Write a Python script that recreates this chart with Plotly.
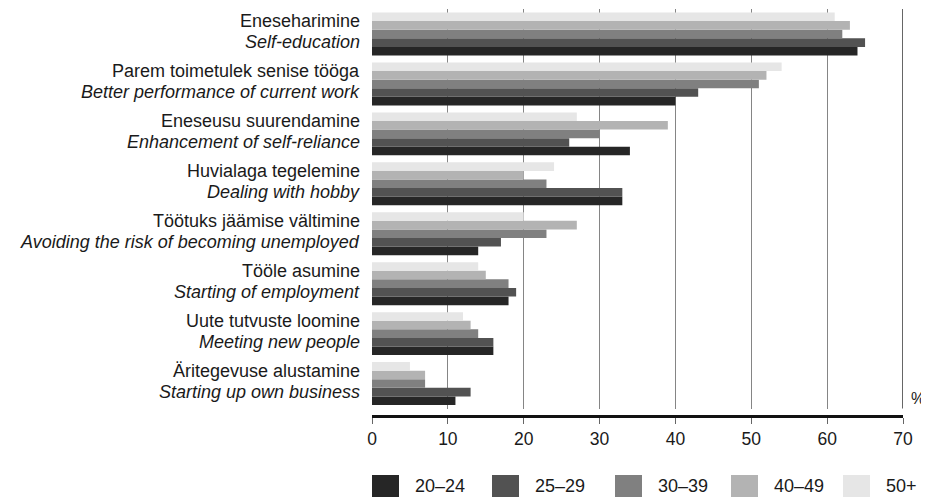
import plotly.graph_objects as go

# ---- data (top to bottom as in the reference) ----
labels_et = [
    "Eneseharimine",
    "Parem toimetulek senise tööga",
    "Eneseusu suurendamine",
    "Huvialaga tegelemine",
    "Töötuks jäämise vältimine",
    "Tööle asumine",
    "Uute tutvuste loomine",
    "Äritegevuse alustamine",
]
labels_en = [
    "Self-education",
    "Better performance of current work",
    "Enhancement of self-reliance",
    "Dealing with hobby",
    "Avoiding the risk of becoming unemployed",
    "Starting of employment",
    "Meeting new people",
    "Starting up own business",
]
age_groups = ["20–24", "25–29", "30–39", "40–49", "50+"]
v_20_24 = [64, 40, 34, 33, 14, 18, 16, 11]
v_25_29 = [65, 43, 26, 33, 17, 19, 16, 13]
v_30_39 = [62, 51, 30, 23, 23, 18, 14, 7]
v_40_49 = [63, 52, 39, 20, 27, 15, 13, 7]
v_50p = [61, 54, 27, 24, 20, 14, 12, 5]
x_ticks = [0, 10, 20, 30, 40, 50, 60, 70]

series = [v_20_24, v_25_29, v_30_39, v_40_49, v_50p]
colors = ["#262626", "#525252", "#808080", "#b3b3b3", "#e6e6e6"]

FONT = "Liberation Sans, Arial, sans-serif"
TXT = "#1a1a1a"

cats = [f"{a} / {b}" for a, b in zip(labels_et, labels_en)]
cats_r = cats[::-1]  # first category is drawn at the bottom

fig = go.Figure()
for name, vals, col in zip(age_groups, series, colors):
    fig.add_trace(go.Bar(
        y=cats_r, x=vals[::-1], name=name, orientation="h",
        marker=dict(color=col, line=dict(width=0)),
        showlegend=False,
    ))

# page body has an 8px margin: figure is 921x489 placed at (8, 8)
W, H = 921, 489
L, R, T = 364, 26, 1
AXIS_Y = 408            # x-axis line (figure px)
B = H - AXIS_Y
pw, ph = W - L - R, H - T - B
dom0 = (AXIS_Y - 400.5) / ph

fig.update_layout(
    width=W, height=H,
    margin=dict(l=L, r=R, t=T, b=B, autoexpand=False),
    paper_bgcolor="white", plot_bgcolor="white",
    barmode="group", bargap=0.14, bargroupgap=0,
    font=dict(family=FONT, size=18, color=TXT),
    xaxis=dict(
        range=[0, 70], tickvals=x_ticks, ticktext=[str(t) for t in x_ticks],
        showgrid=True, gridcolor="#858585", gridwidth=1,
        zeroline=False,
        showline=True, linecolor="#111111", linewidth=3,
        anchor="free", position=0,
        ticks="outside", ticklen=6, tickcolor="#666666", tickwidth=1,
        tickfont=dict(family=FONT, size=17.5, color=TXT),
        fixedrange=True, automargin=False,
    ),
    yaxis=dict(
        domain=[dom0, 1],
        showgrid=False, zeroline=False, showline=False,
        ticks="", showticklabels=False,
        fixedrange=True, automargin=False,
    ),
)

# two-line category labels (Estonian upright, English italic)
for cat, et, en in zip(cats, labels_et, labels_en):
    fig.add_annotation(text=et, xref="paper", yref="y", x=0, y=cat,
                       xanchor="right", yanchor="middle", xshift=-10, yshift=13,
                       showarrow=False, font=dict(family=FONT, size=18, color=TXT))
    fig.add_annotation(text=f"<i>{en}</i>", xref="paper", yref="y", x=0, y=cat,
                       xanchor="right", yanchor="middle", xshift=-10, yshift=-8,
                       showarrow=False, font=dict(family=FONT, size=18, color=TXT))

# darker right border line at 70
fig.add_shape(type="line", xref="x", yref="y domain", x0=70, x1=70, y0=0, y1=1,
              line=dict(color="#333333", width=1.5))

def px2x(p):
    return (p - L) / pw

def px2y(p):
    return (H - B - p) / ph

# percent sign
fig.add_annotation(text="%", xref="paper", yref="paper", x=1, y=px2y(390),
                   xanchor="left", yanchor="middle", xshift=6, showarrow=False,
                   font=dict(family=FONT, size=16, color=TXT))

# custom legend (large swatches as in the reference)
sw_px = [364, 484, 607, 723, 835]
sw_w = 27
y_top_px, y_bot_px, y_mid_px = 467, 492, 478
for name, col, sx in zip(age_groups, colors, sw_px):
    fig.add_shape(type="rect", xref="paper", yref="paper",
                  x0=px2x(sx), x1=px2x(sx + sw_w), y0=px2y(y_bot_px), y1=px2y(y_top_px),
                  fillcolor=col, line=dict(width=0))
    fig.add_annotation(text=name, xref="paper", yref="paper",
                       x=px2x(sx + sw_w + 14), y=px2y(y_mid_px),
                       xanchor="left", yanchor="middle", showarrow=False,
                       font=dict(family=FONT, size=18, color=TXT))

fig.write_html("out.html", config={"displayModeBar": False})
